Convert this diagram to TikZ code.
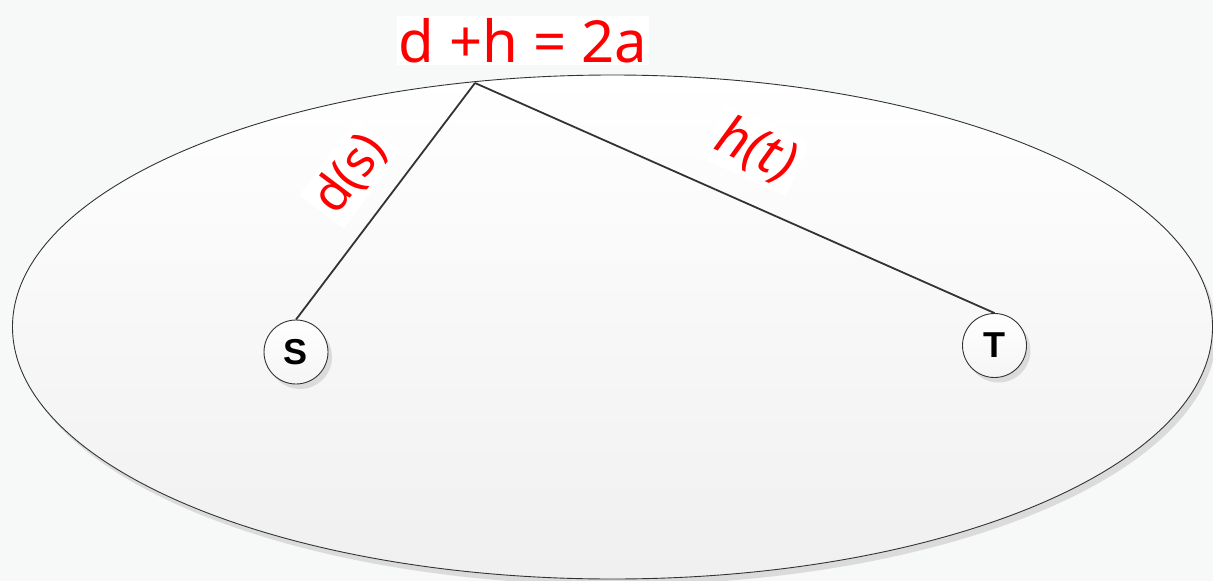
\documentclass[tikz,border=0pt]{standalone}
\usepackage{fontspec}
\setmainfont{Noto Sans}
\newfontfamily\vfont{Liberation Sans}
\usetikzlibrary{shapes.geometric,shadows}
\definecolor{bgc}{RGB}{247,249,249}
\definecolor{linec}{RGB}{51,51,51}
\definecolor{redc}{RGB}{255,0,0}
\begin{document}
\begin{tikzpicture}[x=1pt,y=-1pt,
  region/.style={ellipse,draw=linec,line width=0.9pt,minimum width=1200pt,minimum height=504pt,inner sep=0pt,
    top color=white,bottom color=black!6,
    drop shadow={shadow xshift=4pt,shadow yshift=-6pt,fill=black!14,opacity=1}},
  vtx/.style={circle,draw=linec,line width=0.9pt,minimum size=64pt,inner sep=0pt,
    top color=white,bottom color=black!4,font=\vfont\fontsize{36}{40}\selectfont\bfseries,
    drop shadow={shadow xshift=4pt,shadow yshift=-5pt,fill=black!14,opacity=1}},
  edge/.style={draw=linec,line width=1.8pt},
  lbl/.style={fill=white,text=redc,inner sep=5pt}]
\useasboundingbox[fill=bgc] (0,0) rectangle (1213,581);
\node[region] (E) at (612.5,327) {};
\coordinate (A) at (475,83);
\node[vtx] (S) at (296,352) {S};
\node[vtx] (T) at (994.5,345.5) {T};
\draw[edge] (A) -- (S.north);
\draw[edge] (A) -- (T.north);
\node[lbl,font=\fontsize{50}{54}\selectfont,rotate=53] (ds) at (350,174) {d(s)};
\node[lbl,font=\fontsize{54}{58}\selectfont\itshape,rotate=-24] (ht) at (756,150) {h(t)};
\node[lbl,font=\fontsize{58}{62}\selectfont,inner sep=2pt] (eq) at (523,40.5) {d +h = 2a};
\end{tikzpicture}
\end{document}
